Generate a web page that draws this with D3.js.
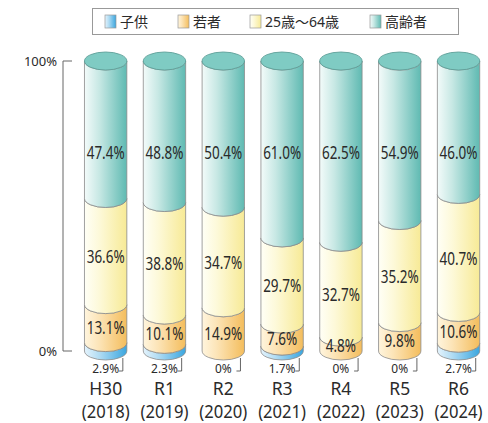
<!DOCTYPE html>
<html>
<head>
<meta charset="utf-8">
<script src="https://cdn.jsdelivr.net/npm/d3@7"></script>
<style>
  body { margin: 0; background: #fff; }
  text { font-family: "Noto Sans", "Noto Sans CJK JP", sans-serif; fill: #2a2a2a; }
</style>
</head>
<body>
<svg id="chart" width="488" height="423"></svg>
<script>
// data
const eras = ['H30', 'R1', 'R2', 'R3', 'R4', 'R5', 'R6'];
const years = ['(2018)', '(2019)', '(2020)', '(2021)', '(2022)', '(2023)', '(2024)'];
const seriesNames = ['子供', '若者', '25歳～64歳', '高齢者'];
const child = [2.9, 2.3, 0, 1.7, 0, 0, 2.7];
const young = [13.1, 10.1, 14.9, 7.6, 4.8, 9.8, 10.6];
const adult = [36.6, 38.8, 34.7, 29.7, 32.7, 35.2, 40.7];
const elderly = [47.4, 48.8, 50.4, 61.0, 62.5, 54.9, 46.0];
const axisTicks = [0, 100];

const gradColors = [
  ['#e4f3fc', '#3aa6df'],
  ['#fff5de', '#f4bd5c'],
  ['#fffff6', '#f7ea96'],
  ['#f3fbfa', '#5fbab2']
];

const svg = d3.select('#chart');
const defs = svg.append('defs');
gradColors.forEach((c, i) => {
  const g = defs.append('linearGradient').attr('id', 'g' + i)
    .attr('x1', 0).attr('x2', 1).attr('y1', 0).attr('y2', 0);
  g.append('stop').attr('offset', '0%').attr('stop-color', c[0]);
  g.append('stop').attr('offset', '35%').attr('stop-color', d3.interpolateRgb(c[0], c[1])(0.3));
  g.append('stop').attr('offset', '100%').attr('stop-color', c[1]);
});

// scales
const x = d3.scaleBand().domain(eras).range([78.6, 485.6]).paddingInner(0.28).paddingOuter(0.1);
const y = d3.scaleLinear().domain([0, 100]).range([351, 61]);
const rx = x.bandwidth() / 2;
const ry = 9;

// axis
const ax = svg.append('g');
ax.append('line').attr('x1', 63).attr('x2', 63).attr('y1', y(100)).attr('y2', y(0))
  .attr('stroke', '#666').attr('stroke-width', 1);
axisTicks.forEach(t => {
  ax.append('line').attr('x1', 63).attr('x2', 72).attr('y1', y(t)).attr('y2', y(t))
    .attr('stroke', '#666').attr('stroke-width', 1);
  ax.append('text').attr('x', 57).attr('y', y(t)).attr('dy', '0.35em')
    .attr('text-anchor', 'end').attr('font-size', 13).text(t + '%');
});

// stack
const rows = eras.map((e, i) => ({ era: e, year: years[i], vals: [child[i], young[i], adult[i], elderly[i]] }));

function segPath(cx, y0, y1) {
  const l = cx - rx, r = cx + rx;
  return `M${l},${y1} A${rx},${ry} 0 0 0 ${r},${y1} L${r},${y0} A${rx},${ry} 0 0 1 ${l},${y0} Z`;
}

function lbl(g, xx, yy, t, size, sx) {
  g.append('text')
    .attr('transform', `translate(${xx},${yy}) scale(${sx},1)`)
    .attr('text-anchor', 'middle').attr('dy', '0.35em')
    .attr('font-size', size).text(t);
}

rows.forEach(d => {
  const cx = x(d.era) + rx;
  const g = svg.append('g');
  let cum = 0;
  d.vals.forEach((v, k) => {
    const lo = cum, hi = cum + v;
    cum = hi;
    if (v <= 0) return;
    g.append('path').attr('d', segPath(cx, y(lo), y(hi)))
      .attr('fill', `url(#g${k})`).attr('stroke', '#8a8a8a').attr('stroke-width', 0.8);
  });
  // top
  g.append('ellipse').attr('cx', cx).attr('cy', y(100)).attr('rx', rx).attr('ry', ry)
    .attr('fill', '#7fcbc3').attr('stroke', '#5f9f98').attr('stroke-width', 0.9);

  const c = d.vals[0], yo = d.vals[1], a = d.vals[2];
  // labels
  lbl(g, cx, y(68.3), d.vals[3].toFixed(1) + '%', 18, 0.75);
  lbl(g, cx, y(c + yo + a / 2) + 5, a.toFixed(1) + '%', 18, 0.75);
  lbl(g, cx, Math.min(y(c + yo / 2) + 4, 346), yo.toFixed(1) + '%', 18, 0.75);
  // child label below with bracket
  const ct = c === 0 ? '0%' : c.toFixed(1) + '%';
  lbl(g, cx, 368, ct, 13, 0.92);
  g.append('path')
    .attr('d', `M${cx + rx - 4},${y(0) + ry - 2} V${y(0) + 20} H${cx + rx - 8}`)
    .attr('fill', 'none').attr('stroke', '#555').attr('stroke-width', 0.9);
  lbl(g, cx, 389, d.era, 17.5, 1);
  lbl(g, cx, 412, d.year, 17.5, 0.95);
});

// legend
const lg = svg.append('g');
lg.append('rect').attr('x', 92.5).attr('y', 8.5).attr('width', 366).attr('height', 26)
  .attr('fill', '#fff').attr('stroke', '#999');
const legX = [105, 178, 250, 370];
seriesNames.forEach((n, i) => {
  lg.append('rect').attr('x', legX[i]).attr('y', 15).attr('width', 11).attr('height', 13)
    .attr('fill', `url(#g${i})`).attr('stroke', '#999').attr('stroke-width', 0.7);
  lg.append('text').attr('x', legX[i] + 15).attr('y', 22).attr('dy', '0.35em')
    .attr('font-size', 14).text(n);
});
</script>
</body>
</html>
